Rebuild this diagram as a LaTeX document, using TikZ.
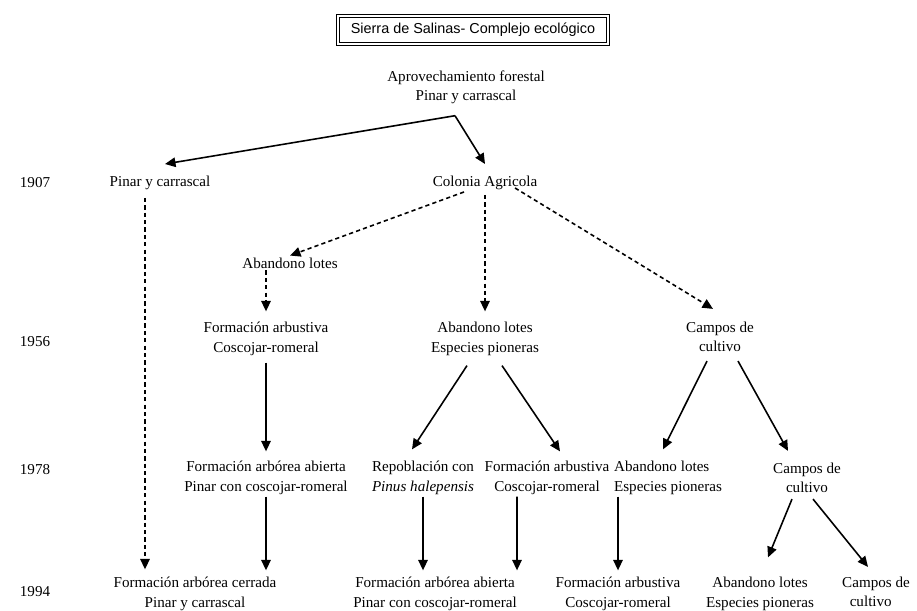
\documentclass[tikz,border=0pt]{standalone}
\usepackage{fontspec}
\setmainfont{Liberation Serif}
\newfontfamily\ttlfont{Liberation Sans}
\usetikzlibrary{arrows.meta,positioning}
\tikzset{
  >={Triangle[length=2.1mm,width=1.9mm]},
  % etapas
  lbl/.style={font=\fontsize{8.6}{11}\selectfont,align=center,inner sep=1pt},
  lbll/.style={lbl,align=left},
  yr/.style={font=\fontsize{8.6}{11}\selectfont,inner sep=1pt},
  ttl/.style={draw,double,double distance=0.6pt,line width=0.6pt,
              font=\ttlfont\fontsize{8.2}{10}\selectfont,
              minimum width=5.4cm,minimum height=0.56cm,inner sep=1pt},
  % flechas
  sol/.style={->,line width=0.9pt},
  dsh/.style={->,line width=0.9pt,dash pattern=on 2.4pt off 1.8pt},
}
\begin{document}
\begin{tikzpicture}
\useasboundingbox (0,0) rectangle (18.34,12.22);
  \node[ttl] (title) at (9.46,11.62) {Sierra de Salinas- Complejo ecológico};
  \node[lbl] (top) at (9.32,10.48) {Aprovechamiento forestal\\Pinar y carrascal};
  % años
  \node[yr] (y1907) at (0.70,8.56) {1907};
  \node[yr] (y1956) at (0.70,5.38) {1956};
  \node[yr] (y1978) at (0.70,2.82) {1978};
  \node[yr] (y1994) at (0.70,0.38) {1994};
  % 1907
  \node[lbl] (pinar) at (3.20,8.56) {Pinar y carrascal};
  \node[lbl] (colonia) at (9.70,8.56) {Colonia Agricola};
  \node[lbl] (aband0) at (5.80,6.96) {Abandono lotes};
  % 1956
  \node[lbl] (arbust1) at (5.32,5.44) {Formación arbustiva\\Coscojar-romeral};
  \node[lbl] (aband1) at (9.70,5.44) {Abandono lotes\\Especies pioneras};
  \node[lbl] (campos1) at (14.40,5.48) {Campos de\\cultivo};
  % 1978
  \node[lbl] (abierta2) at (5.32,2.66) {Formación arbórea abierta\\Pinar con coscojar-romeral};
  \node[lbll] (repobl) at (8.46,2.66) {Repoblación con\\\textit{Pinus halepensis}};
  \node[lbl] (arbust2) at (10.94,2.66) {Formación arbustiva\\Coscojar-romeral};
  \node[lbll] (aband2) at (13.36,2.66) {Abandono lotes\\Especies pioneras};
  \node[lbl] (campos2) at (16.14,2.66) {Campos de\\cultivo};
  % 1994
  \node[lbl] (cerrada) at (3.90,0.34) {Formación arbórea cerrada\\Pinar y carrascal};
  \node[lbl] (abierta3) at (8.70,0.34) {Formación arbórea abierta\\Pinar con coscojar-romeral};
  \node[lbl] (arbust3) at (12.36,0.34) {Formación arbustiva\\Coscojar-romeral};
  \node[lbl] (aband3) at (15.20,0.34) {Abandono lotes\\Especies pioneras};
  \node[lbll] (campos3) at (17.52,0.38) {Campos de\\\ \ cultivo};
  % flechas
  \draw[sol] ([shift={(-0.22,-0.2)}]top.south) -- ([shift={(0.1,0.2)}]pinar.north);
  \draw[sol] ([shift={(-0.22,-0.2)}]top.south) -- ([yshift=0.2cm]colonia.north);
  \draw[dsh] ([shift={(-0.3,-0.12)}]pinar.south) -- ([shift={(-0.3,0.12)}]pinar.south |- cerrada.north);
  \draw[dsh] ([xshift=-0.42cm]colonia.south) -- (aband0.north);
  \draw[dsh] ([yshift=-0.06cm]colonia.south) -- ([yshift=0.18cm]aband1.north);
  \draw[dsh] ([shift={(0.6,0.08)}]colonia.south) -- ([shift={(-0.14,0.22)}]campos1.north);
  \draw[dsh] (aband0.south -| arbust1.north) -- ([yshift=0.18cm]arbust1.north);
  \draw[sol] ([yshift=-0.1cm]arbust1.south) -- ([yshift=0.16cm]abierta2.north);
  \draw[sol] (abierta2.south) -- ([yshift=0.1cm]abierta2.south |- cerrada.north);
  \draw[sol] ([shift={(-0.36,-0.16)}]aband1.south) -- ([shift={(-0.22,0.2)}]repobl.north);
  \draw[sol] ([shift={(0.34,-0.16)}]aband1.south) -- ([shift={(0.26,0.16)}]arbust2.north);
  \draw[sol] (repobl.south) -- ([yshift=0.1cm]repobl.south |- abierta3.north);
  \draw[sol] ([xshift=-0.6cm]arbust2.south) -- ([shift={(-0.6,0.1)}]arbust2.south |- arbust3.north);
  \draw[sol] (aband2.south -| arbust3.north) -- ([yshift=0.1cm]arbust3.north);
  \draw[sol] ([shift={(-0.26,-0.14)}]campos1.south) -- ([shift={(-0.1,0.2)}]aband2.north);
  \draw[sol] ([shift={(0.36,-0.14)}]campos1.south) -- ([shift={(-0.38,0.2)}]campos2.north);
  \draw[sol] ([shift={(-0.3,-0.08)}]campos2.south) -- ([shift={(0.16,0.36)}]aband3.north);
  \draw[sol] ([shift={(0.12,-0.08)}]campos2.south) -- ([shift={(-0.16,0.16)}]campos3.north);
\end{tikzpicture}
\end{document}
